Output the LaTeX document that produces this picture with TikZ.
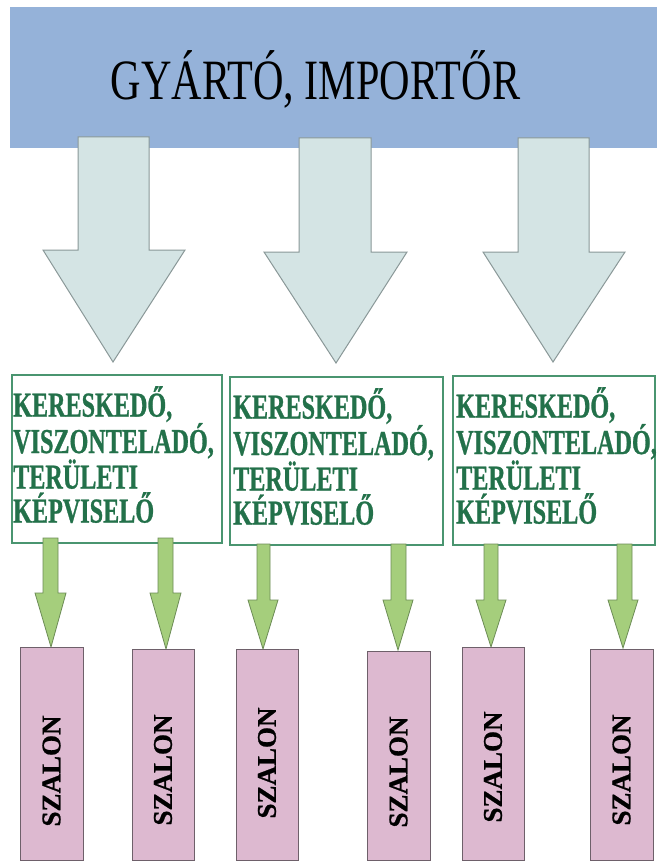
\documentclass[tikz,border=0pt]{standalone}
\usepackage{fontspec}
\setmainfont{Liberation Serif}
\newfontfamily\bannerfont[FakeStretch=0.74]{Liberation Serif}
\newfontfamily\boxfont[FakeStretch=0.69, BoldFeatures={FakeBold=0.8}]{Liberation Serif}
\newfontfamily\szfont[BoldFeatures={FakeBold=0.8}]{Liberation Serif}
\definecolor{bannerblue}{HTML}{95B2D9}
\definecolor{bigfill}{HTML}{D4E4E4}
\definecolor{bigline}{HTML}{8A9898}
\definecolor{boxline}{HTML}{4A9570}
\definecolor{boxtext}{HTML}{23714A}
\definecolor{smallfill}{HTML}{A5CE7C}
\definecolor{smallline}{HTML}{6C8C56}
\definecolor{pinkfill}{HTML}{DDB9D0}
\definecolor{pinkline}{HTML}{6E606A}
\tikzset{
  banner/.style={fill=bannerblue, draw=none},
  bigarrow/.style={fill=bigfill, draw=bigline, line width=1pt, line join=miter},
  midbox/.style={draw=boxline, line width=1.3pt, fill=white},
  midtext/.style={anchor=north west, inner sep=0pt, align=left, text=boxtext,
    font={\boxfont\bfseries\fontsize{35}{34}\selectfont}},
  smallarrow/.style={fill=smallfill, draw=smallline, line width=0.8pt, line join=miter},
  pinkbox/.style={fill=pinkfill, draw=pinkline, line width=0.9pt},
  sztext/.style={rotate=90, inner sep=0pt, font={\szfont\bfseries\fontsize{27}{27}\selectfont}}
}
% #1 style, #2 shaft left, #3 shaft right, #4 top, #5 head y, #6 head left, #7 head right, #8 tip x, #9 tip y
\newcommand\blkarrow[9]{%
  \draw[#1] (#2,#4) -- (#3,#4) -- (#3,#5) -- (#7,#5) -- (#8,#9) -- (#6,#5) -- (#2,#5) -- cycle;}
\begin{document}
\begin{tikzpicture}[x=1pt,y=-1pt]
\useasboundingbox (0,0) rectangle (657,861);
\fill[white] (0,0) rectangle (657,861);
% banner
\path[banner] (10,7) rectangle (657,148);
\node[anchor=base, inner sep=0pt, font={\bannerfont\fontsize{57}{57}\selectfont}] (title) at (315.5,100) {GYÁRTÓ, IMPORTŐR};
% big arrows
\blkarrow{bigarrow}{78}{149}{137}{250}{43}{185}{113}{362}
\blkarrow{bigarrow}{299}{371}{138}{252}{264}{407}{336}{363}
\blkarrow{bigarrow}{518}{589}{138}{252}{483}{625}{553}{362}
% middle boxes
\draw[midbox] (12,375) rectangle (222,543);
\draw[midbox] (230,377) rectangle (443,545);
\draw[midbox] (453,376) rectangle (655,545);
\node[midtext] (t1) at (13,386) {KERESKEDŐ,\\VISZONTELADÓ,\\TERÜLETI\\KÉPVISELŐ};
\node[midtext] (t2) at (233,388) {KERESKEDŐ,\\VISZONTELADÓ,\\TERÜLETI\\KÉPVISELŐ};
\node[midtext] (t3) at (456,387) {KERESKEDŐ,\\VISZONTELADÓ,\\TERÜLETI\\KÉPVISELŐ};
% small arrows
\blkarrow{smallarrow}{43}{58}{538}{593}{35}{66}{51}{647}
\blkarrow{smallarrow}{158}{173}{538}{593}{150}{181}{166}{649}
\blkarrow{smallarrow}{257}{270}{544}{600}{248}{278}{263}{649}
\blkarrow{smallarrow}{391}{406}{544}{600}{383}{413}{398}{650}
\blkarrow{smallarrow}{484}{498}{544}{600}{476}{506}{491}{647}
\blkarrow{smallarrow}{617}{632}{544}{600}{608}{638}{623}{648}
% pink boxes
\draw[pinkbox] (20,647) rectangle (83,860);
\draw[pinkbox] (132,649) rectangle (194,860);
\draw[pinkbox] (236,649) rectangle (298,860);
\draw[pinkbox] (367,651) rectangle (430,860);
\draw[pinkbox] (462,647) rectangle (524,860);
\draw[pinkbox] (590,649) rectangle (653,860);
\node[sztext] (s1) at (51.5,771) {SZALON};
\node[sztext] (s2) at (163,770) {SZALON};
\node[sztext] (s3) at (267,763) {SZALON};
\node[sztext] (s4) at (398.5,772) {SZALON};
\node[sztext] (s5) at (493,767) {SZALON};
\node[sztext] (s6) at (621.5,770) {SZALON};
\end{tikzpicture}
\end{document}
